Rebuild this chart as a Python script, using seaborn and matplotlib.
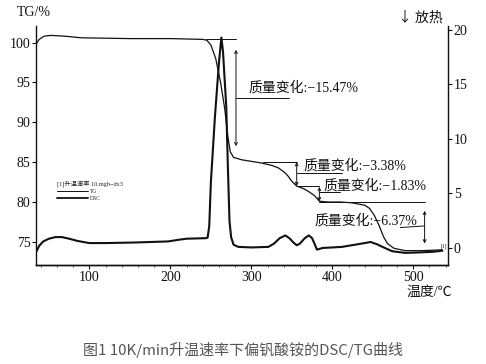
import numpy as np
import pandas as pd
import seaborn as sns
import matplotlib.pyplot as plt
from matplotlib.lines import Line2D

# TG curve (temperature in C, mass in %)
tg_temp = [34, 38, 44, 52, 70, 90, 150, 200, 240, 245, 250, 256, 262, 267, 271,
           274, 278, 288, 300, 312, 325, 333, 340, 345, 350, 356, 364, 371, 378,
           384, 395, 410, 424, 440, 446, 452, 458, 463, 468, 476, 490, 510, 536]
tg_mass = [99.8, 100.4, 100.8, 100.9, 100.8, 100.6, 100.5, 100.5, 100.4, 100.3,
           99.7, 98.0, 95.0, 91.8, 88.2, 86.3, 85.6, 85.3, 85.1, 84.9, 84.6, 84.3,
           83.8, 83.3, 82.6, 82.0, 81.7, 81.3, 80.8, 80.1, 80.0, 80.0, 79.9, 79.6,
           79.2, 78.3, 77.0, 75.7, 74.8, 74.2, 73.9, 73.9, 74.0]

# DSC curve (right axis)
dsc_temp = [34, 38, 43, 50, 58, 66, 75, 85, 100, 120, 155, 197, 210, 220, 244,
            246, 248, 250, 255, 260, 263, 265, 267, 269, 271, 273, 275, 278, 284,
            300, 321, 328, 335, 342, 347, 352, 356, 360, 366, 371, 375, 378, 381,
            388, 412, 440, 447, 455, 462, 474, 490, 510, 524, 536]
dsc_flow = [-0.4, 0.2, 0.6, 0.85, 1.0, 1.0, 0.85, 0.65, 0.45, 0.45, 0.5, 0.6,
            0.75, 0.85, 0.9, 0.95, 2.0, 6.0, 12.0, 17.0, 19.3, 18.0, 15.5, 13.0,
            7.5, 2.5, 1.0, 0.3, 0.1, 0.05, 0.1, 0.4, 0.9, 1.15, 0.9, 0.5, 0.25,
            0.4, 0.9, 1.15, 0.9, 0.4, -0.15, 0.0, 0.1, 0.45, 0.55, 0.35, 0.1,
            -0.3, -0.45, -0.4, -0.35, -0.25]

# mass change labels
steps = ["质量变化:\u221215.47%", "质量变化:\u22123.38%",
         "质量变化:\u22121.83%", "质量变化:\u22126.37%"]

sns.set_style("ticks")
serif = ['Liberation Serif', 'Noto Sans CJK SC']
plt.rcParams['font.family'] = serif
plt.rcParams['axes.unicode_minus'] = True

df_tg = pd.DataFrame({'T': tg_temp, 'TG': tg_mass})
df_dsc = pd.DataFrame({'T': dsc_temp, 'DSC': dsc_flow})

fig = plt.figure(figsize=(4.86, 3.64), dpi=100)
ax1 = fig.add_axes([0.074, 0.272, 0.848, 0.657])
ax2 = ax1.twinx()

sns.lineplot(data=df_tg, x='T', y='TG', ax=ax1, color='#111111', lw=0.9, label='TG', legend=False)
sns.lineplot(data=df_dsc, x='T', y='DSC', ax=ax2, color='#111111', lw=1.5, label='DSC', legend=False)

ax1.set_xlim(34, 543)
ax1.set_ylim(72.1, 102.1)
ax2.set_ylim(-1.56, 20.37)
ax1.set_xticks([100, 200, 300, 400, 500])
ax1.set_xticks(np.arange(40, 541, 20), minor=True)
ax1.set_yticks([75, 80, 85, 90, 95, 100])
ax2.set_yticks([0, 5, 10, 15, 20])
ax1.set_xlabel('')
ax1.set_ylabel('')
ax2.set_ylabel('')

for ax in (ax1, ax2):
    ax.spines['top'].set_visible(False)
    for s in ax.spines.values():
        s.set_linewidth(1.0)
        s.set_color('#111111')
    ax.tick_params(labelsize=10, length=3, width=0.8, colors='#111111', pad=1)
    ax.tick_params(which='minor', length=1.5, width=0.6)
ax2.spines['left'].set_visible(False)
ax1.spines['right'].set_visible(False)

txt = dict(fontsize=10, color='#111111', family=serif)
ln = dict(color='#111111', lw=0.7)
arr = dict(arrowstyle='<->', color='#111111', lw=0.7, mutation_scale=5, shrinkA=0, shrinkB=0)

# step 1
ax1.plot([244, 281], [100.5, 100.5], **ln)
ax1.annotate('', xy=(281, 87.0), xytext=(281, 99.1), arrowprops=arr)
ax1.plot([281, 346], [93.0, 93.0], **ln)
ax1.text(296, 94.3, steps[0], va='center', ha='left', **txt)
# step 2
ax1.plot([315, 356], [85.0, 85.0], **ln)
ax1.annotate('', xy=(356, 82.0), xytext=(356, 85.0), arrowprops=arr)
ax1.plot([356, 412], [83.7, 83.7], **ln)
ax1.text(364, 84.6, steps[1], va='center', ha='left', **txt)
# step 3
ax1.plot([356, 384], [82.0, 82.0], **ln)
ax1.annotate('', xy=(384, 80.1), xytext=(384, 81.9), arrowprops=arr)
ax1.plot([384, 410], [81.2, 81.2], **ln)
ax1.text(389, 82.1, steps[2], va='center', ha='left', **txt)
# step 4
ax1.plot([384, 514], [80.0, 80.0], **ln)
ax1.annotate('', xy=(514, 74.8), xytext=(514, 78.9), arrowprops=arr)
ax1.plot([484, 514], [76.8, 77.0], **ln)
ax1.text(378, 77.6, steps[3], va='center', ha='left', **txt)
ax1.text(542, 74.5, '[1]', fontsize=4, ha='right', va='center', color='#111111')

handles = [Line2D([], [], color='#111111', lw=0.7), Line2D([], [], color='#111111', lw=1.3)]
leg = ax1.legend(handles, ['TG', 'DSC'], title='[1]升温速率 10.mgh\u2212dx3',
                 loc='upper left', bbox_to_anchor=(0.045, 0.365), frameon=False,
                 fontsize=4, title_fontsize=4.5, handlelength=5.5, handletextpad=0.4,
                 labelspacing=0.35, borderpad=0, alignment='left')

fig.text(17 / 486, 1 - 13 / 364, 'TG/%', fontsize=10, va='center', ha='left', color='#111111')
fig.text(443 / 486, 1 - 18 / 364, '\u2193 放热', fontsize=10, va='center', ha='right',
         color='#111111', family=['Noto Sans CJK SC', 'DejaVu Sans'])
fig.text(452 / 486, 1 - 292 / 364, '温度/℃', fontsize=10, va='center', ha='right', color='#111111')
fig.text(0.5, 1 - 350 / 364, '图1 10K/min升温速率下偏钒酸铵的DSC/TG曲线', fontsize=10.8,
         va='center', ha='center', color='#555555', family=['Noto Sans CJK SC', 'DejaVu Sans'])

fig.savefig('out.png', dpi=100)
